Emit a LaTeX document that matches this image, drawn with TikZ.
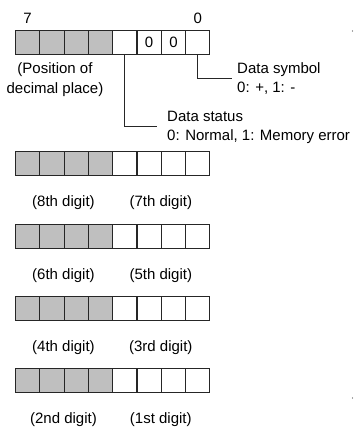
\documentclass[tikz,border=0pt]{standalone}
\usepackage{fontspec}
\setmainfont{Liberation Sans}
\begin{document}
\begin{tikzpicture}[x=1pt,y=-1pt,
  cell/.style={draw=black!85, line width=1.1pt, minimum width=24.3pt, minimum height=24pt,
    inner sep=0pt, outer sep=0pt, anchor=north west},
  shaded/.style={cell, fill=black!25},
  lbl/.style={font=\fontsize{15}{19}\selectfont, inner sep=0pt, anchor=base},
  lblw/.style={lbl, anchor=base west},
  conn/.style={draw=black!85, line width=0.8pt}
]
\useasboundingbox (0,0) rectangle (355,430);
% rows of cells
\foreach \r/\t in {1/30.5, 2/151.7, 3/224.1, 4/296.5, 5/368.9} {
  \foreach \c/\s in {0/shaded,1/shaded,2/shaded,3/shaded,4/cell,5/cell,6/cell,7/cell} {
    \node[\s] (r\r c\c) at ({15.5+24.3*\c}, \t) {};
  }
}
% bit numbers
\node[lbl] (b7) at (27.6, 23.5) {7};
\node[lbl] (b0) at (197.7, 23.5) {0};
% zeros in cells
\node[lbl, anchor=center] (z5) at (r1c5.center) {0};
\node[lbl, anchor=center] (z6) at (r1c6.center) {0};
% position label
\node[lbl] (pos1) at (55, 74) {(Position of};
\node[lbl] (pos2) at (55, 94) {decimal place)};
% data symbol
\coordinate (syend) at (231.7, 78.3);
\draw[conn] (r1c7.south) |- (syend);
\node[lblw] (sy1) at (237, 74) {Data symbol};
\node[lblw] (sy2) at (237, 93) {0: +, 1: -};
% data status
\coordinate (stend) at (157, 126);
\draw[conn] (r1c4.south) |- (stend);
\node[lblw] (st1) at (167, 121.7) {Data status};
\node[lblw] (st2) at (167, 140.7) {0: Normal, 1: Memory error};
% digit labels
\foreach \r/\b/\L/\R in {2/206.7/8th/7th, 3/279.1/6th/5th, 4/351.5/4th/3rd, 5/423.9/2nd/1st} {
  \node[lbl] (l\r a) at (63.5, \b) {(\L\ digit)};
  \node[lbl] (l\r b) at (160.8, \b) {(\R\ digit)};
}
% small marks at right edge
\fill[black!70] (352.5,31) circle (0.6);
\fill[black!70] (352.5,398) circle (0.6);
\end{tikzpicture}
\end{document}
